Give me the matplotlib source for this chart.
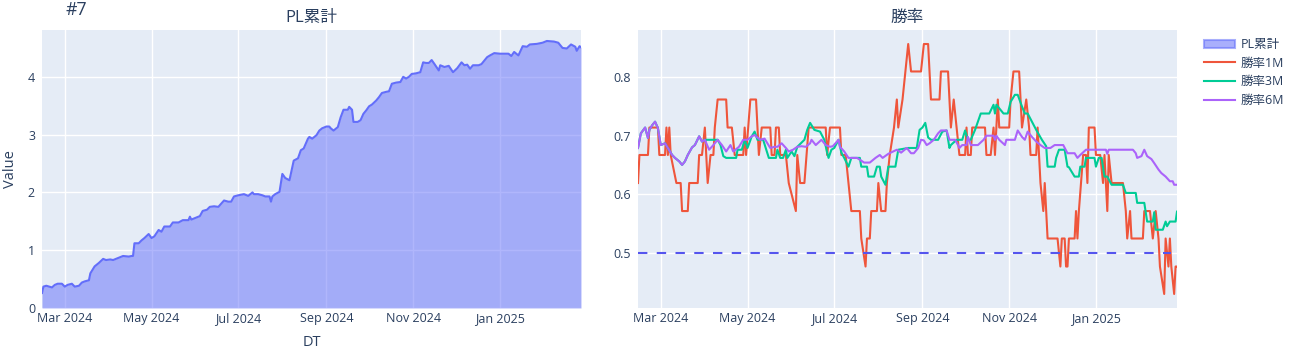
import matplotlib
matplotlib.use("Agg")
import matplotlib.pyplot as plt
import matplotlib.dates as mdates
from matplotlib.patches import Patch
from matplotlib.lines import Line2D
import pandas as pd

plt.rcParams['font.family'] = ['Open Sans', 'Noto Sans CJK JP', 'DejaVu Sans']

TITLE = "#7"
SUBTITLES = ["PL累計", "勝率"]
NAMES = ["PL累計", "勝率1M", "勝率3M", "勝率6M"]
X_LABEL = "DT"
Y_LABEL = "Value"
THRESHOLD = 0.5

PL_DATES = ["2024-02-14", "2024-02-15", "2024-02-17", "2024-02-19", "2024-02-21", "2024-02-23", "2024-02-25", "2024-02-28",
            "2024-03-01", "2024-03-03", "2024-03-06", "2024-03-08", "2024-03-11", "2024-03-13", "2024-03-15", "2024-03-18",
            "2024-03-19", "2024-03-22", "2024-03-25", "2024-03-28", "2024-03-30", "2024-04-02", "2024-04-04", "2024-04-08",
            "2024-04-11", "2024-04-15", "2024-04-17", "2024-04-18", "2024-04-19", "2024-04-22", "2024-04-24", "2024-04-26",
            "2024-04-29", "2024-05-01", "2024-05-03", "2024-05-06", "2024-05-08", "2024-05-10", "2024-05-14", "2024-05-16",
            "2024-05-20", "2024-05-23", "2024-05-27", "2024-05-28", "2024-05-29", "2024-06-01", "2024-06-04", "2024-06-06",
            "2024-06-09", "2024-06-11", "2024-06-14", "2024-06-17", "2024-06-21", "2024-06-24", "2024-06-26", "2024-06-28",
            "2024-07-01", "2024-07-05", "2024-07-08", "2024-07-11", "2024-07-12", "2024-07-15", "2024-07-18", "2024-07-20",
            "2024-07-23", "2024-07-24", "2024-07-25", "2024-07-27", "2024-07-30", "2024-08-01", "2024-08-03", "2024-08-06",
            "2024-08-08", "2024-08-09", "2024-08-12", "2024-08-14", "2024-08-16", "2024-08-19", "2024-08-20", "2024-08-22",
            "2024-08-25", "2024-08-27", "2024-08-29", "2024-09-01", "2024-09-03", "2024-09-04", "2024-09-06", "2024-09-09",
            "2024-09-11", "2024-09-13", "2024-09-16", "2024-09-17", "2024-09-19", "2024-09-20", "2024-09-23", "2024-09-25",
            "2024-09-27", "2024-09-29", "2024-10-01", "2024-10-03", "2024-10-06", "2024-10-08", "2024-10-10", "2024-10-13",
            "2024-10-15", "2024-10-17", "2024-10-20", "2024-10-23", "2024-10-25", "2024-10-27", "2024-10-29", "2024-10-31",
            "2024-11-03", "2024-11-06", "2024-11-08", "2024-11-10", "2024-11-12", "2024-11-14", "2024-11-16", "2024-11-19",
            "2024-11-20", "2024-11-23", "2024-11-26", "2024-11-29", "2024-12-02", "2024-12-05", "2024-12-07", "2024-12-09",
            "2024-12-11", "2024-12-13", "2024-12-17", "2024-12-19", "2024-12-23", "2024-12-25", "2024-12-28", "2025-01-01",
            "2025-01-07", "2025-01-09", "2025-01-11", "2025-01-13", "2025-01-14", "2025-01-17", "2025-01-20", "2025-01-22",
            "2025-01-27", "2025-01-31", "2025-02-03", "2025-02-08", "2025-02-11", "2025-02-14", "2025-02-17", "2025-02-20",
            "2025-02-23", "2025-02-24", "2025-02-26", "2025-02-27"]
PL_VALUES = [0.26, 0.37, 0.385, 0.37, 0.356, 0.40, 0.42, 0.42,
             0.37, 0.40, 0.42, 0.37, 0.385, 0.44, 0.46, 0.48,
             0.60, 0.72, 0.78, 0.85, 0.83, 0.84, 0.83, 0.87,
             0.90, 0.89, 0.90, 0.90, 1.12, 1.12, 1.17, 1.21,
             1.28, 1.21, 1.24, 1.35, 1.32, 1.41, 1.41, 1.48,
             1.48, 1.52, 1.52, 1.58, 1.53, 1.56, 1.59, 1.68,
             1.70, 1.75, 1.76, 1.75, 1.86, 1.84, 1.84, 1.93,
             1.95, 1.97, 1.94, 2.00, 1.97, 1.97, 1.95, 1.93,
             1.93, 1.84, 1.93, 1.97, 2.01, 2.32, 2.25, 2.21,
             2.44, 2.55, 2.59, 2.73, 2.76, 2.93, 2.96, 2.93,
             2.99, 3.07, 3.11, 3.14, 3.14, 3.11, 3.07, 3.13,
             3.30, 3.43, 3.43, 3.48, 3.43, 3.22, 3.22, 3.25,
             3.36, 3.42, 3.49, 3.52, 3.59, 3.65, 3.72, 3.74,
             3.75, 3.88, 3.90, 3.91, 4.00, 3.97, 4.00, 4.05,
             4.06, 4.08, 4.25, 4.24, 4.24, 4.29, 4.22, 4.11,
             4.20, 4.17, 4.19, 4.08, 4.15, 4.25, 4.20, 4.21,
             4.14, 4.20, 4.20, 4.22, 4.34, 4.37, 4.41, 4.40,
             4.40, 4.36, 4.43, 4.39, 4.37, 4.53, 4.52, 4.56,
             4.57, 4.59, 4.62, 4.61, 4.59, 4.50, 4.49, 4.56,
             4.52, 4.45, 4.53, 4.51]

WR1M_DATES = ["2024-02-14", "2024-02-15", "2024-02-21", "2024-02-22", "2024-02-28", "2024-02-29", "2024-03-04", "2024-03-05",
              "2024-03-06", "2024-03-07", "2024-03-08", "2024-03-12", "2024-03-15", "2024-03-16", "2024-03-20", "2024-03-21",
              "2024-03-27", "2024-03-28", "2024-03-30", "2024-04-01", "2024-04-03", "2024-04-05", "2024-04-07", "2024-04-08",
              "2024-04-10", "2024-04-16", "2024-04-17", "2024-04-20", "2024-04-22", "2024-04-28", "2024-04-29", "2024-04-30",
              "2024-05-03", "2024-05-07", "2024-05-09", "2024-05-11", "2024-05-17", "2024-05-18", "2024-05-20", "2024-05-21",
              "2024-05-23", "2024-05-24", "2024-05-28", "2024-05-30", "2024-06-04", "2024-06-05", "2024-06-07", "2024-06-10",
              "2024-06-13", "2024-06-25", "2024-06-26", "2024-06-28", "2024-07-05", "2024-07-06", "2024-07-09", "2024-07-11",
              "2024-07-13", "2024-07-19", "2024-07-20", "2024-07-23", "2024-07-24", "2024-07-26", "2024-07-27", "2024-07-31",
              "2024-08-01", "2024-08-03", "2024-08-06", "2024-08-07", "2024-08-09", "2024-08-12", "2024-08-14", "2024-08-15",
              "2024-08-18", "2024-08-20", "2024-08-22", "2024-08-24", "2024-08-31", "2024-09-02", "2024-09-05", "2024-09-07",
              "2024-09-13", "2024-09-14", "2024-09-19", "2024-09-21", "2024-09-23", "2024-09-25", "2024-09-27", "2024-10-01",
              "2024-10-02", "2024-10-03", "2024-10-05", "2024-10-06", "2024-10-15", "2024-10-16", "2024-10-19", "2024-10-21",
              "2024-10-22", "2024-10-23", "2024-10-24", "2024-10-25", "2024-11-01", "2024-11-02", "2024-11-04", "2024-11-08",
              "2024-11-10", "2024-11-13", "2024-11-15", "2024-11-16", "2024-11-20", "2024-11-21", "2024-11-23", "2024-11-25",
              "2024-11-26", "2024-11-27", "2024-11-28", "2024-12-05", "2024-12-07", "2024-12-08", "2024-12-10", "2024-12-11",
              "2024-12-12", "2024-12-13", "2024-12-17", "2024-12-18", "2024-12-19", "2024-12-20", "2024-12-23", "2024-12-25",
              "2024-12-26", "2024-12-27", "2024-12-31", "2025-01-01", "2025-01-04", "2025-01-06", "2025-01-07", "2025-01-09",
              "2025-01-10", "2025-01-12", "2025-01-20", "2025-01-22", "2025-01-23", "2025-01-25", "2025-01-26", "2025-02-03",
              "2025-02-04", "2025-02-08", "2025-02-10", "2025-02-12", "2025-02-14", "2025-02-15", "2025-02-18", "2025-02-19",
              "2025-02-21", "2025-02-22", "2025-02-23", "2025-02-25", "2025-02-26", "2025-02-27"]
WR1M_VALUES = [0.619, 0.667, 0.667, 0.714, 0.714, 0.667, 0.667, 0.714,
               0.667, 0.714, 0.667, 0.619, 0.619, 0.571, 0.571, 0.619,
               0.619, 0.667, 0.667, 0.714, 0.619, 0.667, 0.667, 0.714,
               0.762, 0.762, 0.714, 0.714, 0.667, 0.667, 0.714, 0.667,
               0.762, 0.762, 0.667, 0.714, 0.714, 0.667, 0.667, 0.714,
               0.714, 0.667, 0.667, 0.619, 0.571, 0.667, 0.619, 0.619,
               0.714, 0.714, 0.667, 0.714, 0.714, 0.667, 0.667, 0.619,
               0.571, 0.571, 0.524, 0.476, 0.524, 0.524, 0.571, 0.571,
               0.619, 0.571, 0.571, 0.619, 0.667, 0.714, 0.762, 0.714,
               0.762, 0.810, 0.857, 0.810, 0.810, 0.857, 0.857, 0.762,
               0.762, 0.810, 0.810, 0.714, 0.762, 0.714, 0.667, 0.667,
               0.714, 0.667, 0.667, 0.714, 0.714, 0.667, 0.667, 0.714,
               0.667, 0.714, 0.762, 0.714, 0.714, 0.762, 0.810, 0.810,
               0.714, 0.762, 0.714, 0.667, 0.667, 0.714, 0.619, 0.571,
               0.619, 0.571, 0.524, 0.524, 0.476, 0.524, 0.524, 0.476,
               0.476, 0.524, 0.524, 0.571, 0.524, 0.571, 0.667, 0.667,
               0.619, 0.714, 0.714, 0.667, 0.667, 0.619, 0.667, 0.571,
               0.667, 0.619, 0.619, 0.571, 0.524, 0.571, 0.524, 0.524,
               0.571, 0.571, 0.524, 0.571, 0.524, 0.476, 0.429, 0.524,
               0.476, 0.524, 0.476, 0.429, 0.476, 0.476]

WR3M_DATES = ["2024-02-14", "2024-02-16", "2024-02-19", "2024-02-21", "2024-02-22", "2024-02-24", "2024-02-26", "2024-02-28",
              "2024-03-01", "2024-03-04", "2024-03-06", "2024-03-09", "2024-03-11", "2024-03-14", "2024-03-16", "2024-03-18",
              "2024-03-20", "2024-03-23", "2024-03-25", "2024-03-28", "2024-03-30", "2024-04-01", "2024-04-04", "2024-04-10",
              "2024-04-12", "2024-04-14", "2024-04-16", "2024-04-23", "2024-04-24", "2024-04-27", "2024-04-29", "2024-05-01",
              "2024-05-04", "2024-05-06", "2024-05-08", "2024-05-12", "2024-05-16", "2024-05-21", "2024-05-22", "2024-05-24",
              "2024-05-26", "2024-05-28", "2024-05-29", "2024-06-01", "2024-06-03", "2024-06-05", "2024-06-10", "2024-06-12",
              "2024-06-14", "2024-06-17", "2024-06-21", "2024-06-24", "2024-06-26", "2024-06-27", "2024-06-29", "2024-07-01",
              "2024-07-04", "2024-07-06", "2024-07-08", "2024-07-11", "2024-07-13", "2024-07-19", "2024-07-20", "2024-07-24",
              "2024-07-25", "2024-07-29", "2024-07-31", "2024-08-02", "2024-08-03", "2024-08-06", "2024-08-08", "2024-08-13",
              "2024-08-15", "2024-08-22", "2024-08-28", "2024-08-30", "2024-09-01", "2024-09-03", "2024-09-05", "2024-09-07",
              "2024-09-12", "2024-09-15", "2024-09-18", "2024-09-20", "2024-09-21", "2024-09-25", "2024-09-29", "2024-10-01",
              "2024-10-03", "2024-10-05", "2024-10-08", "2024-10-10", "2024-10-12", "2024-10-18", "2024-10-21", "2024-10-22",
              "2024-10-23", "2024-10-25", "2024-10-28", "2024-10-31", "2024-11-02", "2024-11-05", "2024-11-07", "2024-11-10",
              "2024-11-12", "2024-11-14", "2024-11-17", "2024-11-20", "2024-11-24", "2024-11-27", "2024-11-28", "2024-12-03",
              "2024-12-04", "2024-12-06", "2024-12-10", "2024-12-12", "2024-12-13", "2024-12-17", "2024-12-20", "2024-12-21",
              "2024-12-24", "2024-12-25", "2024-12-31", "2025-01-01", "2025-01-03", "2025-01-05", "2025-01-07", "2025-01-09",
              "2025-01-12", "2025-01-20", "2025-01-22", "2025-01-29", "2025-01-30", "2025-02-04", "2025-02-06", "2025-02-10",
              "2025-02-11", "2025-02-12", "2025-02-17", "2025-02-19", "2025-02-20", "2025-02-22", "2025-02-26", "2025-02-27"]
WR3M_VALUES = [0.679, 0.704, 0.714, 0.696, 0.710, 0.718, 0.724, 0.713,
               0.684, 0.687, 0.679, 0.667, 0.662, 0.656, 0.650, 0.656,
               0.667, 0.680, 0.684, 0.699, 0.690, 0.693, 0.693, 0.693,
               0.684, 0.665, 0.662, 0.662, 0.676, 0.676, 0.693, 0.679,
               0.699, 0.707, 0.693, 0.693, 0.662, 0.662, 0.676, 0.662,
               0.662, 0.676, 0.662, 0.673, 0.665, 0.681, 0.693, 0.710,
               0.722, 0.710, 0.707, 0.693, 0.671, 0.662, 0.676, 0.679,
               0.693, 0.671, 0.662, 0.647, 0.662, 0.662, 0.647, 0.647,
               0.630, 0.630, 0.647, 0.647, 0.630, 0.616, 0.647, 0.647,
               0.676, 0.679, 0.679, 0.710, 0.714, 0.722, 0.697, 0.693,
               0.693, 0.707, 0.709, 0.679, 0.684, 0.693, 0.693, 0.709,
               0.693, 0.693, 0.710, 0.724, 0.738, 0.738, 0.753, 0.738,
               0.753, 0.747, 0.738, 0.738, 0.758, 0.770, 0.770, 0.750,
               0.738, 0.738, 0.724, 0.710, 0.693, 0.682, 0.647, 0.647,
               0.662, 0.676, 0.676, 0.647, 0.646, 0.630, 0.630, 0.647,
               0.647, 0.662, 0.662, 0.647, 0.662, 0.662, 0.630, 0.630,
               0.616, 0.616, 0.602, 0.602, 0.585, 0.585, 0.553, 0.553,
               0.569, 0.539, 0.539, 0.553, 0.545, 0.553, 0.553, 0.570]

WR6M_DATES = ["2024-02-14", "2024-02-16", "2024-02-19", "2024-02-21", "2024-02-22", "2024-02-24", "2024-02-26", "2024-02-28",
              "2024-03-01", "2024-03-04", "2024-03-06", "2024-03-09", "2024-03-11", "2024-03-14", "2024-03-16", "2024-03-18",
              "2024-03-20", "2024-03-23", "2024-03-25", "2024-03-28", "2024-03-30", "2024-04-01", "2024-04-04", "2024-04-07",
              "2024-04-10", "2024-04-13", "2024-04-16", "2024-04-19", "2024-04-21", "2024-04-25", "2024-04-28", "2024-05-01",
              "2024-05-04", "2024-05-06", "2024-05-10", "2024-05-13", "2024-05-17", "2024-05-20", "2024-05-22", "2024-05-25",
              "2024-05-28", "2024-05-30", "2024-06-02", "2024-06-05", "2024-06-08", "2024-06-11", "2024-06-14", "2024-06-15",
              "2024-06-18", "2024-06-22", "2024-06-25", "2024-06-28", "2024-06-30", "2024-07-04", "2024-07-05", "2024-07-08",
              "2024-07-11", "2024-07-17", "2024-07-22", "2024-07-26", "2024-07-30", "2024-08-02", "2024-08-04", "2024-08-08",
              "2024-08-14", "2024-08-17", "2024-08-21", "2024-08-24", "2024-08-26", "2024-08-29", "2024-08-31", "2024-09-02",
              "2024-09-04", "2024-09-06", "2024-09-09", "2024-09-12", "2024-09-14", "2024-09-18", "2024-09-20", "2024-09-24",
              "2024-09-26", "2024-09-27", "2024-09-29", "2024-10-02", "2024-10-03", "2024-10-05", "2024-10-10", "2024-10-14",
              "2024-10-16", "2024-10-21", "2024-10-22", "2024-10-23", "2024-10-25", "2024-10-29", "2024-10-30", "2024-11-05",
              "2024-11-07", "2024-11-10", "2024-11-12", "2024-11-14", "2024-11-17", "2024-11-20", "2024-11-23", "2024-11-26",
              "2024-11-30", "2024-12-03", "2024-12-09", "2024-12-12", "2024-12-17", "2024-12-19", "2024-12-21", "2024-12-25",
              "2025-01-08", "2025-01-09", "2025-01-10", "2025-01-27", "2025-01-29", "2025-01-30", "2025-02-02", "2025-02-04",
              "2025-02-06", "2025-02-09", "2025-02-11", "2025-02-14", "2025-02-16", "2025-02-19", "2025-02-22", "2025-02-24",
              "2025-02-25", "2025-02-27"]
WR6M_VALUES = [0.679, 0.704, 0.714, 0.696, 0.710, 0.718, 0.724, 0.713,
               0.684, 0.687, 0.679, 0.667, 0.662, 0.656, 0.650, 0.656,
               0.667, 0.680, 0.684, 0.699, 0.690, 0.693, 0.676, 0.684,
               0.693, 0.684, 0.673, 0.684, 0.673, 0.681, 0.693, 0.693,
               0.699, 0.701, 0.693, 0.695, 0.679, 0.681, 0.681, 0.687,
               0.679, 0.673, 0.676, 0.681, 0.682, 0.681, 0.687, 0.693,
               0.684, 0.693, 0.684, 0.681, 0.682, 0.693, 0.681, 0.673,
               0.662, 0.662, 0.654, 0.654, 0.662, 0.667, 0.662, 0.669,
               0.676, 0.671, 0.679, 0.670, 0.670, 0.679, 0.693, 0.692,
               0.684, 0.687, 0.693, 0.704, 0.709, 0.709, 0.693, 0.693,
               0.684, 0.679, 0.684, 0.684, 0.698, 0.684, 0.684, 0.693,
               0.700, 0.700, 0.693, 0.700, 0.693, 0.684, 0.693, 0.693,
               0.709, 0.698, 0.693, 0.707, 0.698, 0.690, 0.684, 0.679,
               0.679, 0.684, 0.684, 0.670, 0.670, 0.662, 0.667, 0.676,
               0.676, 0.669, 0.676, 0.676, 0.670, 0.662, 0.665, 0.676,
               0.665, 0.660, 0.653, 0.642, 0.636, 0.630, 0.622, 0.622,
               0.616, 0.616]

COLORS = ["#636EFA", "#EF553B", "#00CC96", "#AB63FA"]
HLINE_COLOR = "#5555EE"
BG = "#E5ECF6"
TXT = "#2a3f5f"

W, H = 1298, 360
fig = plt.figure(figsize=(W / 100, H / 100), dpi=100)

def px_axes(x0, y0, x1, y1):
    return fig.add_axes([x0 / W, 1 - y1 / H, (x1 - x0) / W, (y1 - y0) / H])

ax1 = px_axes(42, 30, 581, 308)
ax2 = px_axes(638, 30, 1177, 308)

pl_d = pd.to_datetime(PL_DATES)
d1 = pd.to_datetime(WR1M_DATES)
d3 = pd.to_datetime(WR3M_DATES)
d6 = pd.to_datetime(WR6M_DATES)

ax1.fill_between(pl_d, 0, PL_VALUES, color=COLORS[0], alpha=0.5, linewidth=0, zorder=2)
ax1.plot(pl_d, PL_VALUES, color=COLORS[0], lw=1.5, zorder=3)

ax2.plot(d1, WR1M_VALUES, color=COLORS[1], lw=1.5, zorder=3)
ax2.plot(d3, WR3M_VALUES, color=COLORS[2], lw=1.5, zorder=3)
ax2.plot(d6, WR6M_VALUES, color=COLORS[3], lw=1.5, zorder=3)
ax2.plot([d1.min(), pd.Timestamp("2025-02-23")], [THRESHOLD, THRESHOLD], color=HLINE_COLOR,
         lw=1.5, dashes=(4.5, 4.5), zorder=4)

xmin, xmax = pl_d.min(), pl_d.max()
for ax in (ax1, ax2):
    ax.set_facecolor(BG)
    for s in ax.spines.values():
        s.set_visible(False)
    ax.set_xlim(xmin, xmax)
    ax.xaxis.set_major_locator(mdates.MonthLocator(bymonth=[1, 3, 5, 7, 9, 11]))
    ax.xaxis.set_major_formatter(mdates.DateFormatter('%b %Y'))
    ax.grid(True, color='white', lw=1.0, zorder=0)
    ax.set_axisbelow(True)
    ax.tick_params(length=0, labelsize=9, labelcolor=TXT)
    ax.tick_params(axis='x', pad=3)
    ax.tick_params(axis='y', pad=5)

ax1.set_ylim(0, 4.81)
ax1.set_yticks([0, 1, 2, 3, 4])
ax2.set_ylim(0.405, 0.881)
ax2.set_yticks([0.5, 0.6, 0.7, 0.8])
ax2.set_yticklabels(["0.5", "0.6", "0.7", "0.8"])

fig.text(65 / W, 1 - 10 / H, TITLE, ha='left', va='center', fontsize=12.75, color=TXT)
fig.text(311.5 / W, 1 - 18 / H, SUBTITLES[0], ha='center', va='center', fontsize=12, color=TXT)
fig.text(907.5 / W, 1 - 18 / H, SUBTITLES[1], ha='center', va='center', fontsize=12, color=TXT)
fig.text(311.5 / W, 1 - 343 / H, X_LABEL, ha='center', va='center', fontsize=10.5, color=TXT)
fig.text(11 / W, 1 - 169 / H, Y_LABEL, ha='center', va='center', rotation=90, fontsize=10.5, color=TXT)

handles = [Patch(facecolor=COLORS[0], alpha=0.55, edgecolor=COLORS[0], lw=1.5),
           Line2D([0], [0], color=COLORS[1], lw=1.5),
           Line2D([0], [0], color=COLORS[2], lw=1.5),
           Line2D([0], [0], color=COLORS[3], lw=1.5)]
leg = fig.legend(handles, NAMES, loc='upper left', bbox_to_anchor=(1204 / W, 1 - 38 / H),
                 frameon=False, borderaxespad=0, borderpad=0, handlelength=2.5, handleheight=0.6,
                 handletextpad=0.4, labelspacing=0.45, fontsize=9)
for t in leg.get_texts():
    t.set_color(TXT)

fig.savefig("out.png", dpi=100)
